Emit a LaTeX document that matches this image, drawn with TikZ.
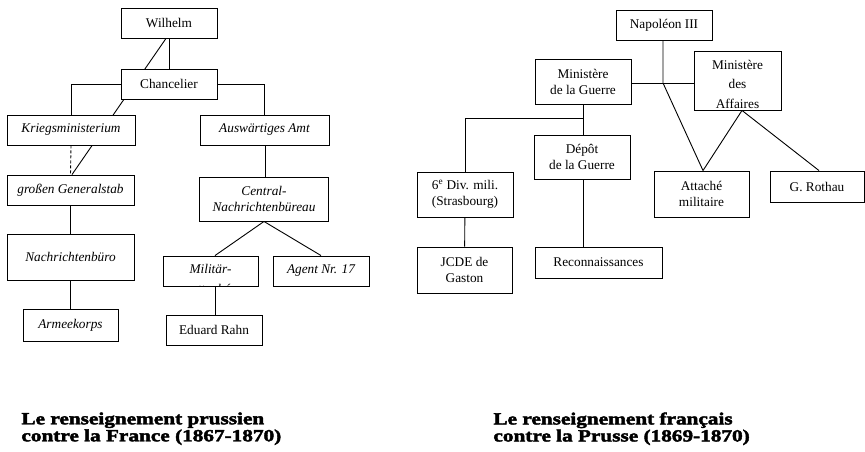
\documentclass[tikz,border=0pt]{standalone}
\usepackage{fontspec}
\setmainfont{Liberation Serif}
\newfontfamily\capfont[FakeStretch=1.25,FakeBold=2.5]{Liberation Serif Bold}
\usetikzlibrary{backgrounds,calc}
\begin{document}
\begin{tikzpicture}[x=1pt,y=-1pt,line width=0.9pt,
  box/.style={draw,fill=white,inner sep=0pt,align=center,font=\fontsize{13.3}{16}\selectfont},
  ibox/.style={box,font=\fontsize{13.3}{16}\selectfont\itshape},
  sz/.style 2 args={minimum width=#1pt,minimum height=#2pt},
  intext/.style={draw=none,fill=none,inner sep=0pt,align=center,anchor=north},
  link/.style={draw,line width=0.9pt},
  dlink/.style={link,dash pattern=on 3pt off 2pt},
  captext/.style={anchor=north west,inner sep=0pt,align=left,font=\capfont\fontsize{17}{17}\selectfont}]
\useasboundingbox (0,0) rectangle (865,451);

% ---- left diagram ----
\node[box,sz={96}{30}] (wil) at (169,23) {Wilhelm};
\node[box,sz={96}{30}] (chan) at (169,84) {Chancelier};
\node[ibox,sz={128}{30}] (krieg) at (71,130) {Kriegsministerium};
\node[ibox,sz={129}{30}] (ausw) at (264.5,130) {Auswärtiges Amt};
\node[ibox,sz={127}{30}] (gen) at (70.5,190) {großen Generalstab};
\node[ibox,sz={127}{46}] (nach) at (70.5,257) {Nachrichtenbüro};
\node[ibox,sz={95}{32}] (armee) at (70.5,325) {Armeekorps};
\node[ibox,sz={129}{44}] (central) at (264,199) {Central-\\Nachrichtenbüreau};
\node[box,sz={95}{30},path picture={\node[intext,font=\fontsize{13.3}{20.5}\selectfont\itshape] at ([yshift=7.7pt]path picture bounding box.center) {Militär-\\attaché};}] (mil) at (210.5,271) {};
\node[ibox,sz={96}{30}] (agent) at (321,271) {Agent Nr. 17};
\node[box,sz={96}{30}] (rahn) at (214,330) {Eduard Rahn};

% ---- right diagram ----
\node[box,sz={96}{30}] (nap) at (664,25) {Napoléon III};
\node[box,sz={96}{45}] (mguerre) at (583,81.5) {Ministère\\de la Guerre};
\node[box,sz={87}{59},path picture={\node[intext,font=\fontsize{13.3}{19.5}\selectfont] at ([yshift=21pt]path picture bounding box.center) {Ministère\\des\\Affaires\\étrangères};}] (maff) at (737.5,80.5) {};
\node[box,sz={96}{44}] (depot) at (582,157) {Dépôt\\de la Guerre};
\node[box,sz={96}{45}] (div) at (465,194.5) {6\textsuperscript{e} Div. mili.\\(Strasbourg)};
\node[box,sz={95}{46}] (att) at (701.5,194) {Attaché\\militaire};
\node[box,sz={94}{31}] (roth) at (817,186.5) {G. Rothau};
\node[box,sz={95}{46}] (jcde) at (464.5,270) {JCDE de\\Gaston};
\node[box,sz={127}{31}] (recon) at (598.5,262.5) {Reconnaissances};

% ---- captions ----
\node[captext] (capL) at (21,412) {Le renseignement prussien\\contre la France (1867-1870)};
\node[captext] (capR) at (493,412) {Le renseignement français\\contre la Prusse (1869-1870)};

\coordinate (j1) at (663,83);
\coordinate (j2) at (583,118);

\begin{pgfonlayer}{background}
  % left
  \path[link] (wil) -- (chan);
  \path[link] ([xshift=-3pt]wil.south) -- ([xshift=1.5pt]gen.north);
  \path[link] (chan.west) -| (krieg.north);
  \path[link] (chan.east) -| (ausw.north);
  \path[dlink] (krieg.south) -- (gen.north);
  \path[link] (gen) -- (nach);
  \path[link] (nach) -- (armee);
  \path[link] ([xshift=0.5pt]ausw.south) -- ([xshift=0.5pt]ausw.south |- central.north);
  \path[link] (central.south) -- ([xshift=4.5pt]mil.north);
  \path[link] (central.south) -- (agent.north);
  \path[link] ([xshift=4.5pt]mil.south) -- ([xshift=4.5pt]mil.south |- rahn.north);
  % right
  \path[link] ([xshift=-1pt]nap.south) -- (j1) -- ([xshift=1.5pt]att.north);
  \path[link] ([yshift=-1.5pt]mguerre.east) -- ([yshift=-1.5pt]mguerre.east -| maff.west);
  \path[link] ([xshift=4.5pt]maff.south) -- ([xshift=1.5pt]att.north);
  \path[link] ([xshift=4.5pt]maff.south) -- ([xshift=2pt]roth.north);
  \path[link] (mguerre.south) -- (mguerre.south |- depot.north);
  \path[link] (j2) -| (div.north);
  \path[link] (div) -- (jcde);
  \path[link] ([xshift=1pt]depot.south) -- ([xshift=1pt]depot.south |- recon.north);
\end{pgfonlayer}
\end{tikzpicture}
\end{document}
